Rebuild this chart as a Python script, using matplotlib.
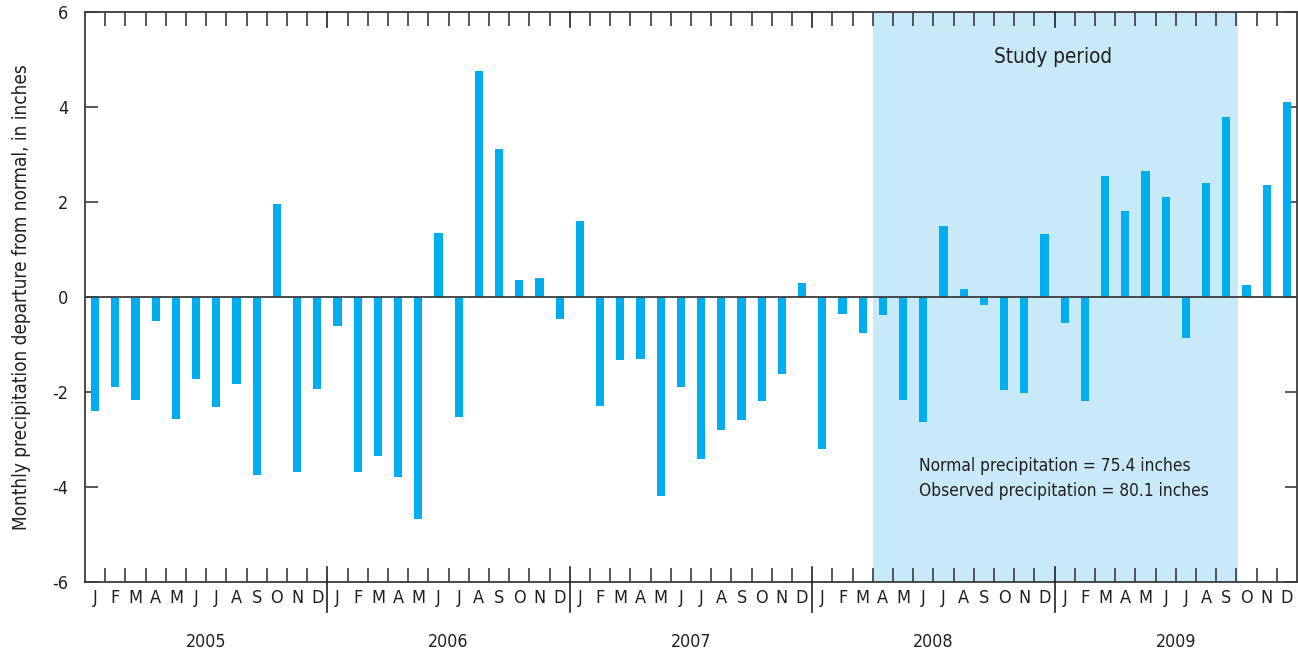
import matplotlib
matplotlib.use("Agg")
import matplotlib.pyplot as plt
import matplotlib.transforms as mtransforms
import numpy as np

plt.rcParams['font.family'] = ['DejaVu Sans']
plt.rcParams['font.stretch'] = 'condensed'
plt.rcParams['axes.unicode_minus'] = False

years = ["2005", "2006", "2007", "2008", "2009"]
month_letters = ["J", "F", "M", "A", "M", "J", "J", "A", "S", "O", "N", "D"]

# Monthly departure from normal precipitation, inches (Jan 2005 - Dec 2009)
dep_2005 = [-2.40, -1.89, -2.17, -0.50, -2.56, -1.72, -2.32, -1.83, -3.74, 1.95, -3.68, -1.93]
dep_2006 = [-0.60, -3.68, -3.34, -3.78, -4.67, 1.35, -2.52, 4.76, 3.11, 0.36, 0.39, -0.47]
dep_2007 = [1.61, -2.29, -1.33, -1.30, -4.18, -1.89, -3.42, -2.80, -2.59, -2.19, -1.63, 0.29]
dep_2008 = [-3.19, -0.36, -0.76, -0.37, -2.16, -2.63, 1.49, 0.16, -0.17, -1.96, -2.03, 1.32]
dep_2009 = [-0.54, -2.19, 2.55, 1.82, 2.65, 2.11, -0.86, 2.41, 3.80, 0.26, 2.35, 4.11]

normal_total = 75.4
observed_total = 80.1

departures = dep_2005 + dep_2006 + dep_2007 + dep_2008 + dep_2009
n = len(departures)
x = np.arange(n)

bar_color = "#00AEEF"
shade_color = "#C7E9F8"
ink = "#231F20"
spine_color = "#3C3C3C"

fig = plt.figure(figsize=(12.98, 6.51), dpi=100)
ax = fig.add_axes([85 / 1298, 69 / 651, 1212 / 1298, 570 / 651])

# study period shading (April 2008 through September 2009)
i0 = years.index("2008") * 12 + 3
i1 = years.index("2009") * 12 + 8
ax.axvspan(i0 - 0.5, i1 + 0.6, color=shade_color, zorder=0, lw=0)

ax.bar(x, departures, width=0.4, color=bar_color, zorder=2)
ax.axhline(0, color=spine_color, lw=1.3, zorder=3)

ax.set_xlim(-0.5, n - 0.5)
ax.set_ylim(-6, 6)

for s in ax.spines.values():
    s.set_color(spine_color)
    s.set_linewidth(1.3)

# y axis: inward ticks on both sides
ax.set_yticks([-6, -4, -2, 0, 2, 4, 6])
ax.set_yticklabels(["-6", "-4", "-2", "0", "2", "4", "6"])
ax.tick_params(axis='y', direction='in', length=9, width=1.2, color=spine_color,
               left=True, right=True, labelsize=13, labelcolor=ink, pad=12)
ax.set_ylabel("Monthly precipitation departure from normal, in inches",
              fontsize=13.6, color=ink, labelpad=15)

# x axis: month letters at centers, inward ticks at month boundaries
ax.set_xticks(x)
ax.set_xticklabels(month_letters * len(years))
ax.tick_params(axis='x', which='major', length=0, labelsize=13, labelcolor=ink, pad=5)
boundaries = [k - 0.5 for k in range(1, n) if k % 12 != 0]
ax.set_xticks(boundaries, minor=True)
ax.tick_params(axis='x', which='minor', direction='in', length=10, width=1.2,
               color=spine_color, top=True, bottom=True)

# year boundaries: longer ticks, crossing below the axis
trans = mtransforms.blended_transform_factory(ax.transData, ax.transAxes)
for k in range(1, len(years)):
    b = k * 12 - 0.5
    ax.plot([b, b], [-0.053, 0.026], transform=trans, color=ink, lw=1.2,
            clip_on=False, zorder=4)
    ax.plot([b, b], [1.0, 0.974], transform=trans, color=ink, lw=1.2,
            clip_on=False, zorder=4)

for k, yr in enumerate(years):
    ax.text(k * 12 + 5.5, -0.105, yr, transform=trans, ha='center', va='center',
            fontsize=12.8, color=ink)

ax.text(47.4, 5.05, "Study period", ha='center', va='center',
        fontsize=14.9, color=ink)
ax.text(40.8, -3.82,
        f"Normal precipitation = {normal_total} inches\nObserved precipitation = {observed_total} inches",
        ha='left', va='center', fontsize=12.4, color=ink, linespacing=1.45)

fig.savefig("out.png", dpi=100)
